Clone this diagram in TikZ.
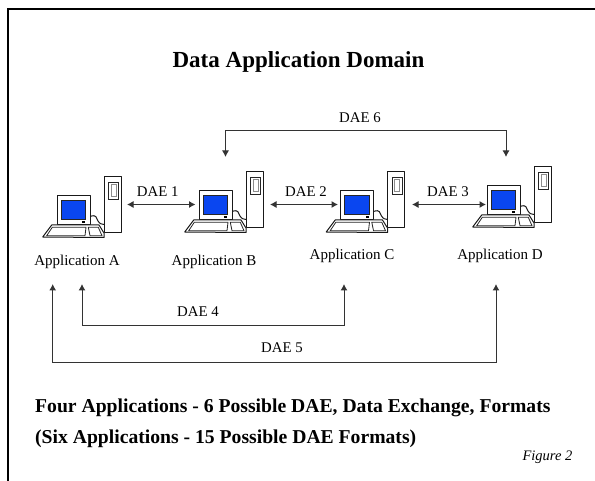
\documentclass[tikz,border=0pt]{standalone}
\usepackage{fontspec}
\setmainfont{Liberation Serif}
\usetikzlibrary{arrows.meta}
\definecolor{scrblue}{HTML}{0A46F0}
\tikzset{
  x=1pt,y=-1pt,
  frameline/.style={line width=2.2pt,black},
  link/.style={line width=1pt,draw=black!80,line join=miter},
  bothtips/.style={{Latex[length=6.5pt,width=7pt]}-{Latex[length=6.5pt,width=7pt]}},
  twoway/.style={link,bothtips},
  lbl/.style={font=\fontsize{14.8}{17}\selectfont,inner sep=0pt,anchor=center},
  applbl/.style={font=\fontsize{15}{17}\selectfont,inner sep=0pt,anchor=center},
  titletext/.style={font=\fontsize{23}{27}\selectfont\bfseries,inner sep=0pt,anchor=center},
  foot/.style={font=\fontsize{19.65}{22}\selectfont\bfseries,inner sep=0pt,anchor=base west},
  figlbl/.style={font=\fontsize{14.5}{17}\selectfont\itshape,inner sep=0pt,anchor=center},
  hw/.style={draw=black!90,line width=1pt,fill=white,line join=round},
  computer/.pic={
    \draw[hw] (0,0) rectangle (17,56);
    \draw[draw=black!85,line width=0.8pt] (4.5,5) rectangle (14.5,22);
    \draw[draw=black!45,line width=0.9pt] (7,7.5) rectangle (12,19.5);
    \draw[hw,fill=none] (-14,39.5) .. controls (-7,37) and (-8,41) .. (-6,44) .. controls (-4,47) and (-3,47) .. (0,47.5);
    \draw[hw] (-47,19) rectangle (-14,48);
    \fill[scrblue,draw=black!85,line width=0.8pt] (-42.7,23) rectangle (-18.3,42.5);
    \fill[black] (-22,44.5) rectangle (-19,46.5);
    \draw[hw] (-61.3,60) -- (-52.3,48) -- (-5,48) -- (0,56) -- (0,60.5) -- cycle;
    \draw[draw=black!85,line width=0.8pt,fill=white] (-57.3,58.7) -- (-51.7,50.3) -- (-18,50.3) -- (-19,58.7) -- cycle;
    \draw[draw=black!85,line width=0.8pt,fill=white] (-15.7,50.3) -- (-5.7,50.3) -- (-2,58.7) -- (-14,58.7) -- cycle;
  },
}
\begin{document}
\begin{tikzpicture}
\useasboundingbox (0,0) rectangle (595,481);
% frame
\coordinate (frameBL) at (8,481);
\coordinate (frameTL) at (8,9);
\coordinate (frameTR) at (595,9);
\draw[frameline,line join=miter] (frameBL) -- (frameTL) -- (frameTR);

\node[titletext] (title) at (298.5,62) {Data Application Domain};

% computers
\pic (pcA) at (104,177) {computer};
\pic (pcB) at (246,172) {computer};
\pic (pcC) at (387.5,172) {computer};
\pic (pcD) at (534,167) {computer};

\node[applbl] (appA) at (77,261.5) {Application A};
\node[applbl] (appB) at (214,261.5) {Application B};
\node[applbl] (appC) at (352,255.5) {Application C};
\node[applbl] (appD) at (500,255.5) {Application D};

% connector ends
\coordinate (aE) at (127,204.5);
\coordinate (bW) at (195.5,204.5);
\coordinate (bE) at (270,204.5);
\coordinate (cW) at (338,204.5);
\coordinate (cE) at (412,204.5);
\coordinate (dW) at (486,204.5);
\coordinate (bTop) at (225.5,157);
\coordinate (dTop) at (506,157);
\coordinate (b6) at (225.5,130.7);
\coordinate (d6) at (506,130.7);
\coordinate (aLow1) at (82,284);
\coordinate (aLow2) at (52.7,284);
\coordinate (cLow) at (344,284);
\coordinate (dLow) at (496,284);
\coordinate (a4) at (82,326);
\coordinate (c4) at (344,326);
\coordinate (a5) at (52.7,363);
\coordinate (d5) at (496,363);

\draw[twoway] (aE) -- (bW);
\draw[twoway] (bE) -- (cW);
\draw[twoway] (cE) -- (dW);
\draw[twoway] (bTop) -- (b6) -- (d6) -- (dTop);
\draw[twoway] (aLow1) -- (a4) -- (c4) -- (cLow);
\draw[twoway] (aLow2) -- (a5) -- (d5) -- (dLow);

\node[lbl] (dae1) at (157.7,192) {DAE 1};
\node[lbl] (dae2) at (306,192) {DAE 2};
\node[lbl] (dae3) at (448,192) {DAE 3};
\node[lbl] (dae4) at (198,312) {DAE 4};
\node[lbl] (dae5) at (282,348) {DAE 5};
\node[lbl] (dae6) at (360,118) {DAE 6};

\node[foot] (foot1) at (35,412.7) {Four Applications - 6 Possible DAE, Data Exchange, Formats};
\node[foot] (foot2) at (35,443.3) {(Six Applications - 15 Possible DAE Formats)};
\node[figlbl] (fig) at (547.5,457) {Figure 2};
\end{tikzpicture}
\end{document}
